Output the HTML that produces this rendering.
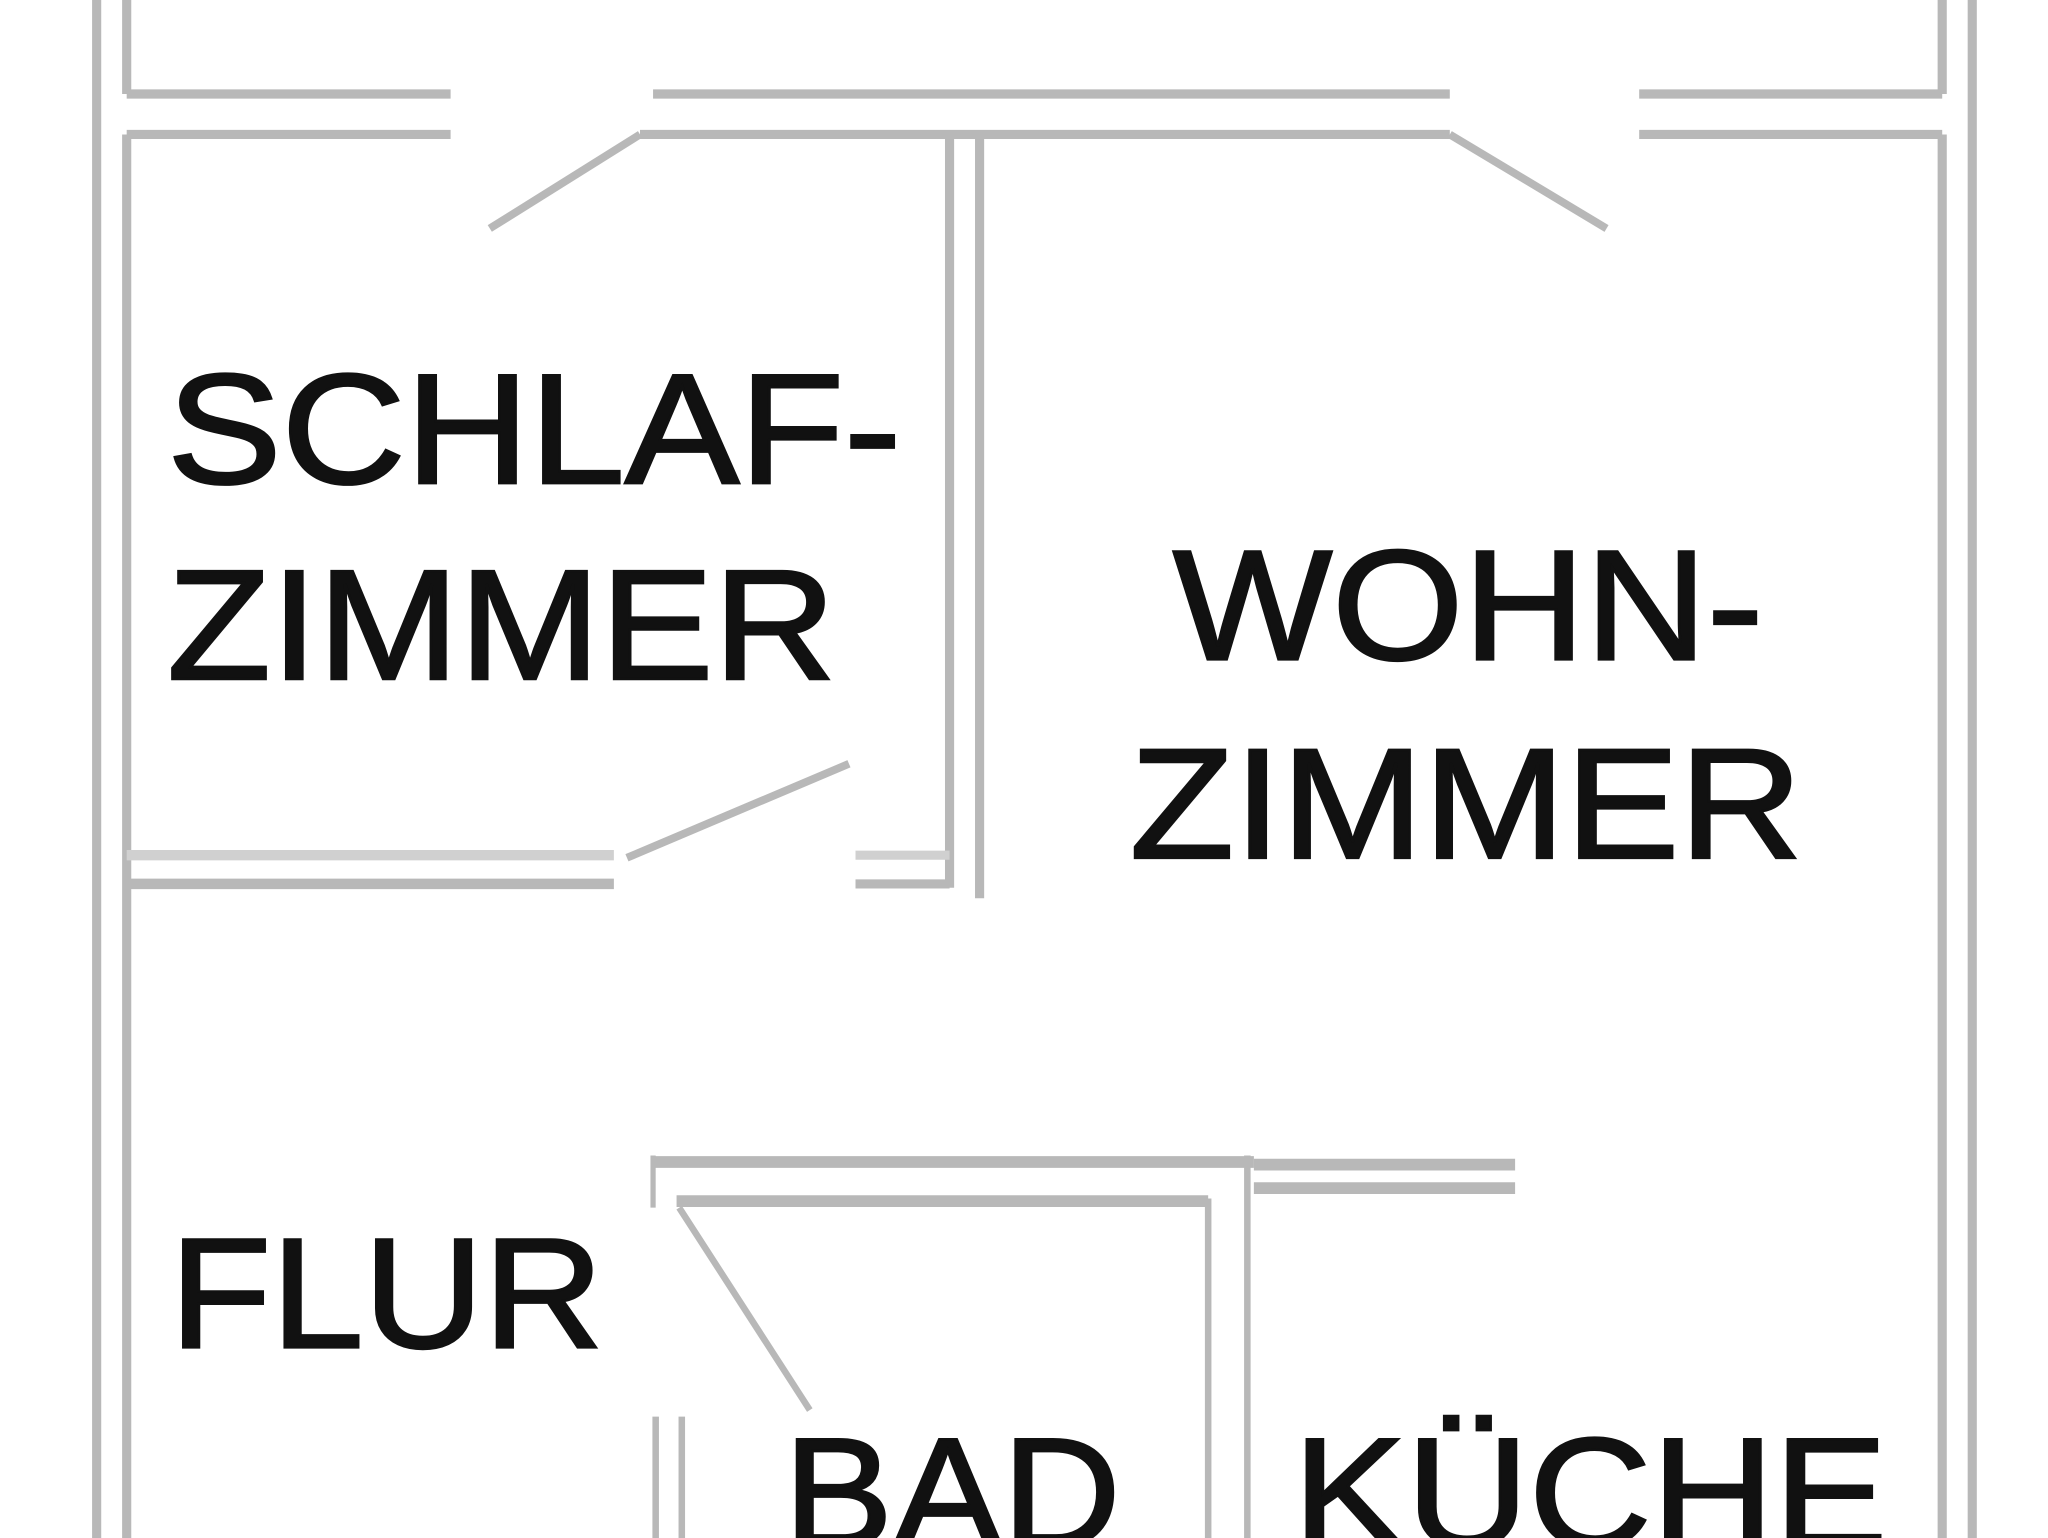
<!DOCTYPE html>
<html><head><meta charset="utf-8"><style>
html,body{margin:0;padding:0;background:#fff;}
svg{display:block;}
text{font-family:"Liberation Sans",Arial,sans-serif;fill:#111;stroke:#111;stroke-width:2;}
</style></head><body>
<svg width="2048" height="1538" viewBox="0 0 1568 1178" preserveAspectRatio="none">
<rect width="1568" height="1178" fill="#fff"/>
<g stroke="#b8b8b8" stroke-width="7" fill="none" stroke-linecap="butt">
<line x1="74" y1="0" x2="74" y2="1178"/>
<line x1="97" y1="0" x2="97" y2="72"/>
<line x1="97" y1="103" x2="97" y2="1178"/>
<line x1="1510" y1="0" x2="1510" y2="1178"/>
<line x1="1487" y1="0" x2="1487" y2="72"/>
<line x1="1487" y1="103" x2="1487" y2="1178"/>
<line x1="97" y1="72" x2="345" y2="72"/>
<line x1="97" y1="103" x2="345" y2="103"/>
<line x1="500" y1="72" x2="1110" y2="72"/>
<line x1="490" y1="103" x2="1110" y2="103"/>
<line x1="1255" y1="72" x2="1487" y2="72"/>
<line x1="1255" y1="103" x2="1487" y2="103"/>
<line x1="490" y1="103" x2="375" y2="175" stroke-width="6"/>
<line x1="1110" y1="103" x2="1230" y2="175" stroke-width="6"/>
<line x1="480" y1="657" x2="650" y2="585" stroke-width="6"/>
<line x1="520" y1="925" x2="620" y2="1080" stroke-width="5"/>
<line x1="727" y1="103" x2="727" y2="680"/>
<line x1="750" y1="103" x2="750" y2="688"/>
<line x1="97" y1="655" x2="470" y2="655" stroke-width="8" stroke="#d0d0d0"/>
<line x1="97" y1="677" x2="470" y2="677" stroke-width="8"/>
<line x1="655" y1="655" x2="727" y2="655" stroke-width="7" stroke="#d0d0d0"/>
<line x1="655" y1="677" x2="727" y2="677" stroke-width="7"/>
<line x1="500" y1="890" x2="960" y2="890" stroke-width="9"/>
<line x1="518" y1="920" x2="925" y2="920" stroke-width="9"/>
<line x1="960" y1="892" x2="1160" y2="892" stroke-width="9"/>
<line x1="960" y1="910" x2="1160" y2="910" stroke-width="9"/>
<line x1="500" y1="885" x2="500" y2="925" stroke-width="4"/>
<line x1="925" y1="918" x2="925" y2="1178" stroke-width="5"/>
<line x1="955" y1="885" x2="955" y2="1178" stroke-width="5"/>
<line x1="502" y1="1085" x2="502" y2="1178" stroke-width="5"/>
<line x1="522" y1="1085" x2="522" y2="1178" stroke-width="5"/>
</g>
<g font-size="120">
<text x="128" y="370" textLength="562" lengthAdjust="spacingAndGlyphs">SCHLAF-</text>
<text x="128" y="520" textLength="512" lengthAdjust="spacingAndGlyphs">ZIMMER</text>
<text x="898" y="505" textLength="452" lengthAdjust="spacingAndGlyphs">WOHN-</text>
<text x="865" y="657" textLength="515" lengthAdjust="spacingAndGlyphs">ZIMMER</text>
<text x="130" y="1032" textLength="332" lengthAdjust="spacingAndGlyphs">FLUR</text>
<text x="600" y="1185" textLength="258" lengthAdjust="spacingAndGlyphs">BAD</text>
<text x="990" y="1185" textLength="455" lengthAdjust="spacingAndGlyphs">KÜCHE</text>
</g>
</svg>
</body></html>
